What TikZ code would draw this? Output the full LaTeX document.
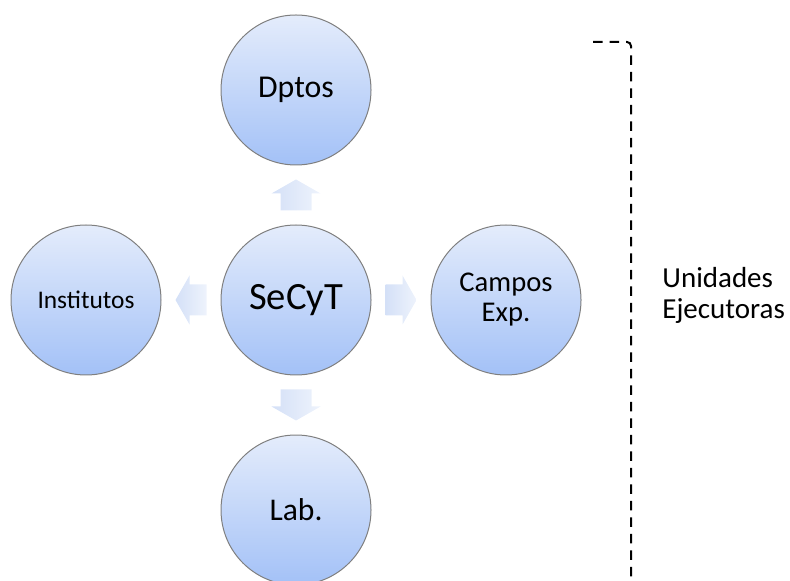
\documentclass[tikz,border=0pt]{standalone}
\usepackage{fontspec}
\setmainfont{Carlito}
\usetikzlibrary{positioning,calc}
\definecolor{circtop}{HTML}{E4ECFB}
\definecolor{circbot}{HTML}{A3C1F7}
\definecolor{circline}{HTML}{7F7F7F}
\definecolor{flechatip}{HTML}{EEF3FC}
\definecolor{flechatail}{HTML}{D4E0F7}

\begin{document}
\begin{tikzpicture}[x=0.5pt,y=-0.5pt,
	unidad/.style={circle,draw=circline,line width=0.5pt,top color=circtop,bottom color=circbot,minimum size=75pt,inner sep=0pt,align=center},
	flecha/.pic={\shade[left color=flechatail,right color=flechatip] (-15.5,-15.5) -- (1.5,-15.5) -- (1.5,-24.5) -- (15.5,0) -- (1.5,24.5) -- (1.5,15.5) -- (-15.5,15.5) -- cycle;}]
	\useasboundingbox (0,0) rectangle (790,581);
	\node[unidad,font=\fontsize{19.3}{20}\selectfont] (secyt) at (296,300) {SeCyT};
	\node[unidad,above=29.5pt of secyt,font=\fontsize{15.9}{17}\selectfont] (dptos) {Dptos};
	\node[unidad,below=29.5pt of secyt,font=\fontsize{15.8}{17}\selectfont] (lab) {Lab.};
	\node[unidad,left=29.5pt of secyt,font=\fontsize{12.7}{14}\selectfont] (inst) {Institutos};
	\node[unidad,right=29.5pt of secyt,font=\fontsize{14.3}{15}\selectfont] (campos) {Campos\\Exp.};
	% flechas
	\pic[rotate=90] (aup) at ($(secyt)!0.5!(dptos)$) {flecha};
	\pic[rotate=-90] (adown) at ($(secyt)!0.5!(lab)$) {flecha};
	\pic[rotate=180] (aleft) at ($(secyt)!0.5!(inst)$) {flecha};
	\pic (aright) at ($(secyt)!0.5!(campos)$) {flecha};
	% llave punteada
	\coordinate (brtop) at (593,42);
	\coordinate (brcorner) at (631,42);
	\coordinate (brbot) at (631,581);
	\draw[line width=1pt,dash pattern=on 4.75pt off 3.5pt,rounded corners=2pt] (brtop) -- (brcorner) -- (brbot);
	\node[anchor=west,align=left,inner sep=0pt,font=\fontsize{14.5}{15.5}\selectfont] (ue) at (662,295) {Unidades\\Ejecutoras};
\end{tikzpicture}
\end{document}
